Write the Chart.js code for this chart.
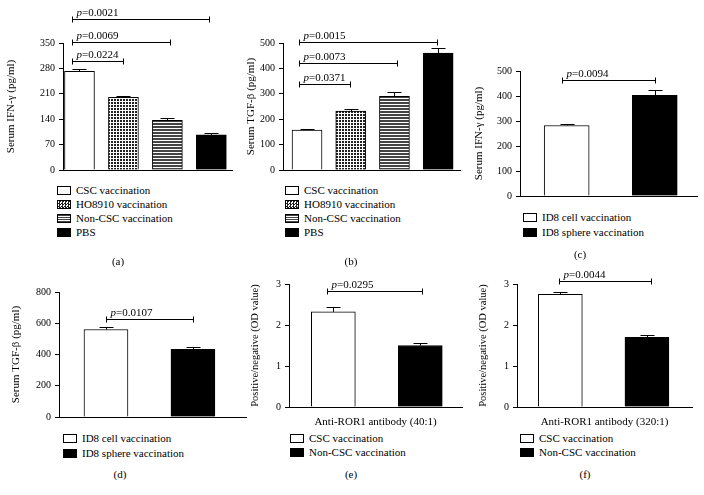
<!DOCTYPE html>
<html>
<head>
<meta charset="utf-8">
<script src="https://cdn.jsdelivr.net/npm/chart.js"></script>
<style>
body { margin: 0; background: #fff; width: 704px; height: 495px; position: relative; overflow: hidden; font-family: "Liberation Serif", serif; color: #000; }
canvas { position: absolute; }
.leg { position: absolute; font-size: 11px; }
.leg div { position: relative; height: 14px; line-height: 14px; padding-left: 19px; white-space: nowrap; }
.leg span { position: absolute; left: 0; top: 3px; width: 12px; height: 7px; border: 1px solid #000; }
.cap { position: absolute; font-size: 11px; transform: translate(-50%, -50%); }
</style>
</head>
<body>
<canvas id="pA" width="240" height="180" style="left:0;top:0"></canvas>
<canvas id="pB" width="230" height="180" style="left:240px;top:0"></canvas>
<canvas id="pC" width="234" height="180" style="left:470px;top:30px"></canvas>
<canvas id="pD" width="250" height="170" style="left:0;top:260px"></canvas>
<canvas id="pE" width="228" height="170" style="left:240px;top:260px"></canvas>
<canvas id="pF" width="234" height="170" style="left:470px;top:260px"></canvas>

<div class="leg" id="legA" style="left:57px;top:183px"></div>
<div class="leg" id="legB" style="left:285px;top:183px"></div>
<div class="leg" id="legC" style="left:523px;top:210px"></div>
<div class="leg" id="legD" style="left:63px;top:431px"></div>
<div class="leg" id="legE" style="left:290px;top:431px"></div>
<div class="leg" id="legF" style="left:520px;top:431px"></div>

<div class="cap" style="left:118px;top:261px">(a)</div>
<div class="cap" style="left:351px;top:261px">(b)</div>
<div class="cap" style="left:580px;top:254px">(c)</div>
<div class="cap" style="left:120px;top:474px">(d)</div>
<div class="cap" style="left:351px;top:474px">(e)</div>
<div class="cap" style="left:585px;top:474px">(f)</div>

<script>
// grupos
const gruposOvario = ["CSC vaccination", "HO8910 vaccination", "Non-CSC vaccination", "PBS"];
const gruposID8 = ["ID8 cell vaccination", "ID8 sphere vaccination"];
const gruposRor = ["CSC vaccination", "Non-CSC vaccination"];

// (a) IFN-gamma
const ifnA = [272, 200, 137, 97];
const ifnAErro = [6, 4, 6, 5];
const colchetesA = [[-0.17, 1, 300, "0.0224"], [-0.17, 2.05, 353, "0.0069"], [-0.17, 2.95, 416, "0.0021"]];

// (b) TGF-beta
const tgfB = [157, 232, 290, 460];
const tgfBErro = [4, 8, 18, 22];
const colchetesB = [[-0.18, 0.98, 339, "0.0371"], [-0.18, 2.05, 421, "0.0073"], [-0.18, 2.97, 504, "0.0015"]];

// (c) IFN-gamma ID8
const ifnC = [282, 403];
const ifnCErro = [8, 22];
const colchetesC = [[-0.05, 1, 464, "0.0094"]];

// (d) TGF-beta ID8
const tgfD = [560, 433];
const tgfDErro = [18, 18];
const colchetesD = [[0, 1, 627, "0.0107"]];

// (e) e (f) anti-ROR1
const odE = [2.32, 1.5];
const odEErro = [0.11, 0.05];
const colchetesE = [[-0.07, 1.02, 2.83, "0.0295"]];
const odF = [2.75, 1.7];
const odFErro = [0.06, 0.05];
const colchetesF = [[-0.02, 1.05, 3.07, "0.0044"]];

// padrões das barras
function padrao(desenha, w, h) {
    const c = document.createElement("canvas");
    c.width = w; c.height = h;
    desenha(c.getContext("2d"));
    return c.getContext("2d").createPattern(c, "repeat");
}
const xadrez = padrao(function (g) {
    g.fillStyle = "#fff"; g.fillRect(0, 0, 3, 3);
    g.fillStyle = "#222"; g.fillRect(0, 0, 2, 2);
}, 3, 3);
const listras = padrao(function (g) {
    g.fillStyle = "#fff"; g.fillRect(0, 0, 1, 3);
    g.fillStyle = "#444"; g.fillRect(0, 0, 1, 2);
}, 1, 3);
const preenche4 = ["#fff", xadrez, listras, "#000"];
const preenche2 = ["#fff", "#000"];
const cssFill = {
    "#fff": "#fff",
    "#000": "#000",
    xadrez: "repeating-conic-gradient(#222 0 25%, #fff 0 50%) 0 0/3px 3px",
    listras: "repeating-linear-gradient(#444 0 1px, #fff 1px 2px)"
};

const fonte = '"Liberation Serif", serif';

function legenda(id, grupos, fills, alt) {
    const el = document.getElementById(id);
    grupos.forEach(function (g, i) {
        const d = document.createElement("div");
        if (alt) { d.style.height = alt + "px"; d.style.lineHeight = alt + "px"; }
        d.innerHTML = '<span style="background:' + cssFill[fills[i]] + '"></span>' + g;
        el.appendChild(d);
    });
}
legenda("legA", gruposOvario, ["#fff", "xadrez", "listras", "#000"]);
legenda("legB", gruposOvario, ["#fff", "xadrez", "listras", "#000"]);
legenda("legC", gruposID8, ["#fff", "#000"], 15);
legenda("legD", gruposID8, ["#fff", "#000"], 15);
legenda("legE", gruposRor, ["#fff", "#000"]);
legenda("legF", gruposRor, ["#fff", "#000"]);

function painel(id, p) {
    const marcas = {
        id: "marcas",
        afterDatasetsDraw: function (chart) {
            const ctx = chart.ctx;
            const sx = chart.scales.x, sy = chart.scales.y;
            ctx.save();
            ctx.strokeStyle = "#000";
            ctx.fillStyle = "#000";
            ctx.lineWidth = 1;
            chart.getDatasetMeta(0).data.forEach(function (bar, i) {
                const topo = Math.round(sy.getPixelForValue(p.valores[i] + p.erros[i])) + 0.5;
                const bx = Math.round(bar.x) + 0.5;
                ctx.beginPath();
                ctx.moveTo(bx, bar.y);
                ctx.lineTo(bx, topo);
                ctx.moveTo(bx - 7, topo);
                ctx.lineTo(bx + 7, topo);
                ctx.stroke();
            });
            p.colchetes.forEach(function (c) {
                const x1 = Math.round(sx.getPixelForValue(c[0])) + 0.5;
                const x2 = Math.round(sx.getPixelForValue(c[1])) + 0.5;
                const yy = Math.round(sy.getPixelForValue(c[2])) + 0.5;
                ctx.beginPath();
                ctx.moveTo(x1, yy); ctx.lineTo(x2, yy);
                ctx.moveTo(x1, yy - 3); ctx.lineTo(x1, yy + 3);
                ctx.moveTo(x2, yy - 3); ctx.lineTo(x2, yy + 3);
                ctx.stroke();
                ctx.textBaseline = "alphabetic";
                ctx.font = "italic 11px " + fonte;
                ctx.fillText("p", x1 + 4, yy - 4);
                const w = ctx.measureText("p").width;
                ctx.font = "11px " + fonte;
                ctx.fillText("=" + c[3], x1 + 4 + w, yy - 4);
            });
            ctx.restore();
        }
    };
    new Chart(document.getElementById(id), {
        type: "bar",
        data: {
            datasets: [{
                data: p.valores.map(function (v, i) { return { x: i, y: v }; }),
                backgroundColor: p.fills,
                borderColor: "#000",
                borderWidth: 1,
                barThickness: p.larg
            }]
        },
        options: {
            responsive: false,
            animation: false,
            layout: { padding: { left: 0, top: p.pad[0], right: p.pad[1], bottom: p.pad[2] } },
            plugins: { legend: { display: false }, tooltip: { enabled: false } },
            scales: {
                x: {
                    type: "linear",
                    offset: false,
                    min: p.xmin, max: p.xmax,
                    ticks: { display: false },
                    grid: { display: false },
                    border: { display: true, color: "#000", width: 1 },
                    title: { display: !!p.xtitulo, text: p.xtitulo || "", color: "#000", font: { family: fonte, size: 11 }, padding: { top: 0, bottom: 0 } },
                    afterFit: function (s) { s.height = p.xAlt; }
                },
                y: {
                    min: 0, max: p.ymax,
                    ticks: { stepSize: p.passo, color: "#000", font: { family: fonte, size: 10 }, padding: 4 },
                    grid: { display: true, drawOnChartArea: false, drawTicks: true, tickLength: 4, color: "#000" },
                    border: { display: true, color: "#000", width: 1 },
                    title: { display: true, text: p.ytitulo, color: "#000", font: { family: fonte, size: p.tfonte }, padding: { top: p.tpad, bottom: 0 } },
                    afterFit: function (s) { s.width = p.yLarg; }
                }
            }
        },
        plugins: [marcas]
    });
}

painel("pA", { valores: ifnA, erros: ifnAErro, colchetes: colchetesA, fills: preenche4, larg: 30,
    xmin: -0.375, xmax: 3.47, ymax: 350, passo: 70, ytitulo: "Serum IFN-\u03b3 (pg/ml)",
    pad: [43, 8, 10], yLarg: 63, xAlt: 0, tpad: 5, tfonte: 11 });
painel("pB", { valores: tgfB, erros: tgfBErro, colchetes: colchetesB, fills: preenche4, larg: 30,
    xmin: -0.55, xmax: 3.5, ymax: 500, passo: 100, ytitulo: "Serum TGF-\u03b2 (pg/ml)",
    pad: [43, 10, 10], yLarg: 43, xAlt: 0, tpad: 5, tfonte: 11 });
painel("pC", { valores: ifnC, erros: ifnCErro, colchetes: colchetesC, fills: preenche2, larg: 45,
    xmin: -0.53, xmax: 1.48, ymax: 500, passo: 100, ytitulo: "Serum IFN-\u03b3 (pg/ml)",
    pad: [41, 7, 14], yLarg: 50, xAlt: 0, tpad: 3, tfonte: 11 });
painel("pD", { valores: tgfD, erros: tgfDErro, colchetes: colchetesD, fills: preenche2, larg: 44,
    xmin: -0.54, xmax: 1.61, ymax: 800, passo: 200, ytitulo: "Serum TGF-\u03b2 (pg/ml)",
    pad: [32, 4, 13], yLarg: 59, xAlt: 0, tpad: 10, tfonte: 11 });
painel("pE", { valores: odE, erros: odEErro, colchetes: colchetesE, fills: preenche2, larg: 44,
    xmin: -0.51, xmax: 1.48, ymax: 3, passo: 1, ytitulo: "Positive/negative (OD value)",
    xtitulo: "Anti-ROR1 antibody (40:1)", pad: [24, 6, 1], yLarg: 49, xAlt: 22, tpad: 9, tfonte: 10.5 });
painel("pF", { valores: odF, erros: odFErro, colchetes: colchetesF, fills: preenche2, larg: 44,
    xmin: -0.5, xmax: 1.52, ymax: 3, passo: 1, ytitulo: "Positive/negative (OD value)",
    xtitulo: "Anti-ROR1 antibody (320:1)", pad: [24, 12, 1], yLarg: 47, xAlt: 22, tpad: 7, tfonte: 10.5 });
</script>
</body>
</html>
